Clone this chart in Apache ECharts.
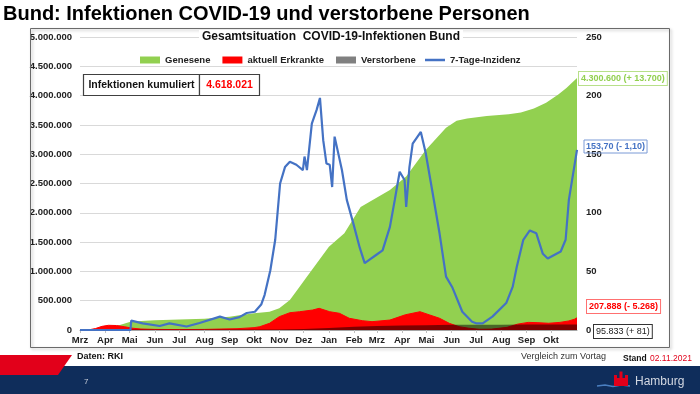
<!DOCTYPE html>
<html>
<head>
<meta charset="utf-8">
<script src="https://cdn.jsdelivr.net/npm/echarts@6/dist/echarts.min.js"></script>
<style>
html,body{margin:0;padding:0;background:#fff;}
#c{width:700px;height:394px;}
</style>
</head>
<body>
<div id="c"></div>
<script>
// ---------- DATA ----------
const monthLabels = ['Mrz','Apr','Mai','Jun','Jul','Aug','Sep','Okt','Nov','Dez','Jan','Feb','Mrz','Apr','Mai','Jun','Jul','Aug','Sep','Okt'];
const monthStarts = ['2020-03-01','2020-04-01','2020-05-01','2020-06-01','2020-07-01','2020-08-01','2020-09-01','2020-10-01','2020-11-01','2020-12-01','2021-01-01','2021-02-01','2021-03-01','2021-04-01','2021-05-01','2021-06-01','2021-07-01','2021-08-01','2021-09-01','2021-10-01'];
const leftTicks = [0,500000,1000000,1500000,2000000,2500000,3000000,3500000,4000000,4500000,5000000];
const rightTicks = [0,50,100,150,200,250];

const recoveredDates = ['2020-03-01','2020-03-20','2020-04-01','2020-04-15','2020-05-01','2020-05-15','2020-06-01','2020-07-01','2020-08-01','2020-09-01','2020-09-13','2020-10-01','2020-10-20','2020-11-01','2020-11-14','2020-11-26','2020-12-02','2021-01-01','2021-01-20','2021-02-09','2021-03-17','2021-04-06','2021-04-30','2021-05-25','2021-06-07','2021-06-20','2021-07-14','2021-08-10','2021-08-25','2021-09-10','2021-09-25','2021-10-10','2021-10-20','2021-11-02'];
const recoveredValues = [0,2000,20000,70000,135000,155000,168000,180000,192000,228000,250000,285000,312000,370000,512000,739000,853000,1420000,1650000,2100000,2390000,2620000,3070000,3450000,3570000,3610000,3650000,3680000,3710000,3780000,3880000,4020000,4130000,4300600];

const activeDates = ['2020-03-01','2020-03-12','2020-03-20','2020-03-28','2020-04-05','2020-04-15','2020-04-25','2020-05-05','2020-05-15','2020-06-01','2020-07-01','2020-08-01','2020-08-20','2020-09-10','2020-10-01','2020-10-08','2020-10-20','2020-11-01','2020-11-14','2020-11-26','2020-12-12','2020-12-20','2021-01-02','2021-01-14','2021-01-26','2021-02-11','2021-02-23','2021-03-17','2021-04-05','2021-04-23','2021-05-05','2021-05-17','2021-05-29','2021-06-10','2021-06-22','2021-07-05','2021-07-20','2021-08-08','2021-08-21','2021-09-03','2021-09-15','2021-09-28','2021-10-12','2021-10-23','2021-10-30','2021-11-02'];
const activeValues = [0,3000,25000,62000,80000,76000,55000,30000,16000,10000,7000,10000,16000,22000,40000,56000,114000,227000,295000,312000,341000,370000,312000,285000,200000,159000,142000,170000,260000,312000,256000,200000,114000,57000,30000,12000,15000,45000,100000,130000,125000,115000,130000,155000,185000,207888];

const deathDates = ['2020-03-01','2020-04-01','2020-05-01','2020-06-01','2020-07-01','2020-09-01','2020-10-01','2020-11-01','2020-12-01','2021-01-01','2021-02-01','2021-03-01','2021-04-01','2021-05-01','2021-06-01','2021-07-01','2021-08-01','2021-09-01','2021-10-01','2021-11-02'];
const deathValues = [0,900,6700,8600,9000,9300,9500,10500,17000,33000,57000,70000,76500,82500,89000,91000,91700,92500,93800,95833];

const incDates = ['2020-03-01','2020-05-02','2020-05-03','2020-05-17','2020-06-07','2020-06-19','2020-07-10','2020-07-26','2020-08-20','2020-09-01','2020-09-13','2020-09-22','2020-10-02','2020-10-10','2020-10-14','2020-10-21','2020-10-27','2020-11-02','2020-11-08','2020-11-14','2020-11-22','2020-11-30','2020-12-02','2020-12-05','2020-12-11','2020-12-17','2020-12-21','2020-12-25','2020-12-29','2021-01-02','2021-01-05','2021-01-08','2021-01-10','2021-01-17','2021-01-23','2021-01-31','2021-02-08','2021-02-14','2021-02-20','2021-02-28','2021-03-08','2021-03-17','2021-03-23','2021-03-29','2021-04-04','2021-04-06','2021-04-10','2021-04-14','2021-04-20','2021-04-24','2021-04-30','2021-05-08','2021-05-17','2021-05-25','2021-06-02','2021-06-14','2021-06-26','2021-07-01','2021-07-09','2021-07-21','2021-08-07','2021-08-15','2021-08-20','2021-08-28','2021-09-05','2021-09-13','2021-09-21','2021-09-27','2021-10-05','2021-10-13','2021-10-19','2021-10-23','2021-11-02'];
const incValues = [0,0,8,5.7,3.4,5.7,3,6,11.4,9,11,14.5,15.6,22,30,51,77,125,139,143.6,141,136.5,148,136.5,176,188,198,162,142,141,122,165,166,136.5,111,91,70,57,60,64,68,88,111,135,128,105,139,159,165,169,151,119,82.5,45.5,36,15.6,7,5.7,5.7,11.4,23,37,54,77,85,82.5,65,61,64,67,77,111,153.7];

// ---------- helpers ----------
function toTs(s){const p=s.split('-').map(Number);return Date.UTC(p[0],p[1]-1,p[2]);}
function pairs(d,v){return d.map((x,i)=>[toTs(x),v[i]]);}
const monthTs = monthStarts.map(toTs);
const FONT = '"Liberation Sans", Arial, sans-serif';
const legendText = {fontFamily:FONT,fontSize:9.5,fontWeight:'bold',color:'#222'};

const chart = echarts.init(document.getElementById('c'), null, {renderer:'canvas'});
const option = {
  animation:false,
  backgroundColor:'#fff',
  textStyle:{fontFamily:FONT},
  grid:{left:80,right:123,top:37,bottom:64,containLabel:false},
  legend:[
    {left:135, top:50, itemGap:12, itemWidth:20, itemHeight:7, icon:'rect',
     textStyle:legendText, data:['Genesene','aktuell Erkrankte','Verstorbene']},
    {left:420, top:50, itemWidth:20, itemHeight:2.5, icon:'rect',
     textStyle:legendText, data:['7-Tage-Inzidenz']}
  ],
  xAxis:{
    type:'value',
    min:toTs('2020-03-01'), max:toTs('2021-11-02'),
    axisLine:{onZero:false,lineStyle:{color:'#a6a6a6',width:1}},
    axisTick:{show:true,length:3,lineStyle:{color:'#bfbfbf'},customValues:monthTs},
    splitLine:{show:false},
    axisLabel:{
      customValues:monthTs, hideOverlap:false, margin:5, showMinLabel:true, showMaxLabel:true,
      fontFamily:FONT,fontSize:9.5,fontWeight:'bold',color:'#222',
      formatter:function(v){const i=monthTs.indexOf(v);return i>=0?monthLabels[i]:'';}
    }
  },
  yAxis:[
    {type:'value',min:leftTicks[0],max:leftTicks[leftTicks.length-1],interval:leftTicks[1]-leftTicks[0],
     axisLine:{show:false},axisTick:{show:false},
     splitLine:{lineStyle:{color:'#d9d9d9',width:1}},
     axisLabel:{margin:8,fontFamily:FONT,fontSize:9.5,fontWeight:'bold',color:'#222',
       formatter:function(v){return v===0?'0':v.toString().replace(/\B(?=(\d{3})+(?!\d))/g,'.');}}},
    {type:'value',min:rightTicks[0],max:rightTicks[rightTicks.length-1],interval:rightTicks[1]-rightTicks[0],
     position:'right',axisLine:{show:false},axisTick:{show:false},splitLine:{show:false},
     axisLabel:{margin:9,fontFamily:FONT,fontSize:9.5,fontWeight:'bold',color:'#222'}}
  ],
  series:[
    {name:'Genesene',type:'line',yAxisIndex:0,symbol:'none',data:pairs(recoveredDates,recoveredValues),
     itemStyle:{color:'#92D050'},lineStyle:{width:0},areaStyle:{color:'#92D050',opacity:1},z:1},
    {name:'aktuell Erkrankte',type:'line',yAxisIndex:0,symbol:'none',data:pairs(activeDates,activeValues),
     itemStyle:{color:'#FF0000'},lineStyle:{width:1,color:'#FF0000'},areaStyle:{color:'#FF0000',opacity:1},z:2},
    {name:'Verstorbene',type:'line',yAxisIndex:0,symbol:'none',data:pairs(deathDates,deathValues),
     itemStyle:{color:'#808080'},lineStyle:{width:0},areaStyle:{color:'rgba(0,0,0,0.5)',opacity:1},z:3},
    {name:'7-Tage-Inzidenz',type:'line',yAxisIndex:1,symbol:'none',data:pairs(incDates,incValues),
     itemStyle:{color:'#4472C4'},lineStyle:{width:2.2,color:'#4472C4'},z:4}
  ],
  graphic:[
    {type:'rect',z:100,shape:{x:30.5,y:28.5,width:639,height:319},
     style:{fill:'none',stroke:'#6a6a6a',lineWidth:1,shadowBlur:3,shadowOffsetX:1.5,shadowOffsetY:1.5,shadowColor:'rgba(0,0,0,0.3)'}},
    {type:'text',z:100,style:{text:'Bund: Infektionen COVID-19 und verstorbene Personen',x:3,y:14,textVerticalAlign:'middle',
      font:'bold 20px '+FONT,fill:'#000'}},
    {type:'text',z:100,style:{text:'Gesamtsituation  COVID-19-Infektionen Bund',x:331,y:37,textAlign:'center',textVerticalAlign:'middle',
      font:'bold 12px '+FONT,fill:'#111',backgroundColor:'#fff',padding:[1,3]}},
    {type:'rect',z:100,shape:{x:83.5,y:74.5,width:116,height:21},style:{fill:'#fff',stroke:'#404040',lineWidth:1.2}},
    {type:'rect',z:100,shape:{x:199.5,y:74.5,width:60,height:21},style:{fill:'#fff',stroke:'#404040',lineWidth:1.2}},
    {type:'text',z:101,style:{text:'Infektionen kumuliert',x:141.5,y:85,textAlign:'center',textVerticalAlign:'middle',font:'bold 10.5px '+FONT,fill:'#111'}},
    {type:'text',z:101,style:{text:'4.618.021',x:229.5,y:85,textAlign:'center',textVerticalAlign:'middle',font:'bold 10.5px '+FONT,fill:'#FF0000'}},
    {type:'text',z:101,style:{text:'4.300.600 (+ 13.700)',x:579,y:78.5,textVerticalAlign:'middle',font:'bold 9px '+FONT,fill:'#92D050',
      backgroundColor:'#fff',borderColor:'#b8e08a',borderWidth:1,padding:[2,2]}},
    {type:'text',z:101,style:{text:'153,70 (- 1,10)',x:584,y:146.5,textVerticalAlign:'middle',font:'bold 9px '+FONT,fill:'#4472C4',
      borderColor:'#7a9ad6',borderWidth:1,padding:[2,2]}},
    {type:'text',z:101,style:{text:'207.888 (- 5.268)',x:587,y:306.5,textVerticalAlign:'middle',font:'bold 9px '+FONT,fill:'#FF0000',
      backgroundColor:'#fff',borderColor:'#ff7070',borderWidth:1,padding:[2,2]}},
    {type:'text',z:101,style:{text:'95.833 (+ 81)',x:594,y:331.5,textVerticalAlign:'middle',font:'9px '+FONT,fill:'#222',
      backgroundColor:'#fff',borderColor:'#333',borderWidth:1,padding:[2,2]}},
    {type:'rect',z:90,shape:{x:0,y:366,width:700,height:28},style:{fill:'#0F2D5B'}},
    {type:'polygon',z:91,shape:{points:[[0,355],[72,355],[58,375],[0,375]]},style:{fill:'#E2001A'}},
    {type:'text',z:101,style:{text:'Daten: RKI',x:77,y:357,textVerticalAlign:'middle',font:'bold 9px '+FONT,fill:'#111'}},
    {type:'text',z:101,style:{text:'7',x:84,y:382,textVerticalAlign:'middle',font:'8px '+FONT,fill:'#c9cfdb'}},
    {type:'text',z:101,style:{text:'Vergleich zum Vortag',x:521,y:357,textVerticalAlign:'middle',font:'9px '+FONT,fill:'#333'}},
    {type:'text',z:101,style:{text:'Stand',x:623,y:359,textVerticalAlign:'middle',font:'bold 8.5px '+FONT,fill:'#111'}},
    {type:'text',z:101,style:{text:'02.11.2021',x:650,y:359,textVerticalAlign:'middle',font:'8.5px '+FONT,fill:'#E2001A'}},
    {type:'polyline',z:101,shape:{points:[[597,386],[605,385],[613,386.5],[621,385],[630,386]]},style:{stroke:'#4a7fc1',lineWidth:1.4,fill:'none'}},
    {type:'polygon',z:102,shape:{points:[[614,386],[614,375],[617,375],[617,378],[619.5,378],[619.5,371.5],[622.5,371.5],[622.5,378],[625,378],[625,375],[628,375],[628,386]]},style:{fill:'#E2001A'}},
    {type:'text',z:101,style:{text:'Hamburg',x:635,y:381.5,textVerticalAlign:'middle',font:'12px '+FONT,fill:'#d3d8e2'}}
  ]
};
chart.setOption(option);
</script>
</body>
</html>
